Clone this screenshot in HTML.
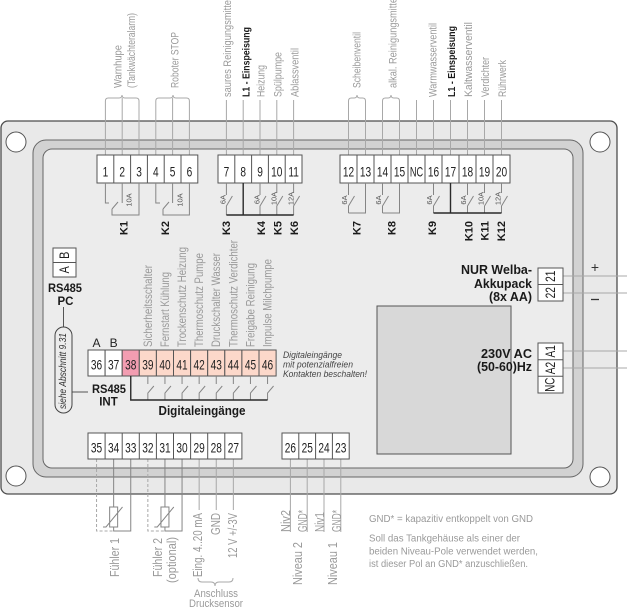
<!DOCTYPE html>
<html><head><meta charset="utf-8">
<style>
html,body{margin:0;padding:0;background:#fff;}
svg{display:block;font-family:"Liberation Sans",Arial,sans-serif;}
.lbl{fill:#9a9a9a;font-size:11px}
.ml{fill:#9a9a9a;font-size:12px}
.bl{fill:#9a9a9a;font-size:12.5px}
.num{font-size:13.5px;fill:#222}
.k{font-size:11px;font-weight:bold;fill:#1a1a1a}
.amp{font-size:7.5px;fill:#555}
.b{font-weight:bold;fill:#1a1a1a}
.w{stroke:#a8a8a8;stroke-width:1;fill:none}
.r{stroke:#858585;stroke-width:1;fill:none}
.d{stroke:#2a2a2a;stroke-width:1.4;fill:none}
.t{fill:#fff;stroke:#555;stroke-width:1}
.dv{stroke:#555;stroke-width:1;fill:none}
</style></head><body>
<svg width="627" height="607" viewBox="0 0 627 607" xmlns="http://www.w3.org/2000/svg">
<!-- housing -->
<rect x="1" y="121" width="616" height="373" rx="7" fill="#e9e9e9" stroke="#4d4d4d" stroke-width="1.3"/>
<circle cx="16" cy="142" r="10" fill="#fff" stroke="#555"/>
<circle cx="600" cy="142" r="10" fill="#fff" stroke="#555"/>
<circle cx="16" cy="476" r="10" fill="#fff" stroke="#555"/>
<circle cx="600" cy="477" r="10" fill="#fff" stroke="#555"/>
<rect x="33" y="140" width="550" height="337" rx="13" fill="#d2d2d2" stroke="#666"/>
<rect x="43" y="149" width="530" height="319" rx="9" fill="#ececec" stroke="#666"/>

<!-- display -->
<rect x="377" y="306" width="134" height="148" fill="#d8d8d8" stroke="#555"/>

<!-- top wires -->
<path class="w" d="M105.4,155V101M122.2,155V98M139,155V101M155.8,155V101M172.6,155V98M189.4,155V101
M226.4,155V100M243.2,155V100M260,155V100M276.8,155V100M293.6,155V100
M348.5,155V101M365.5,155V101M382.5,155V101M399.5,155V101M416.5,155V100M433.5,155V100M450.5,155V100M467.5,155V100M484.5,155V100M501.5,155V100"/>
<!-- braces -->
<path class="w" d="M105.4,101q0,-3 3,-3H119q3,0 3,-3q0,3 3,3H136q3,0 3,3
M155.8,101q0,-3 3,-3H170q3,0 3,-3q0,3 3,3H186.4q3,0 3,3
M348.5,101q0,-3 3,-3H354q3,0 3,-3q0,3 3,3H362.5q3,0 3,3
M382.5,101q0,-3 3,-3H388q3,0 3,-3q0,3 3,3H396.5q3,0 3,3"/>

<!-- top labels -->
<g dominant-baseline="central" lengthAdjust="spacingAndGlyphs">
<text class="lbl" transform="translate(118.5,88) rotate(-90)" dominant-baseline="central" textLength="43" lengthAdjust="spacingAndGlyphs">Warnhupe</text>
<text class="lbl" transform="translate(132,88) rotate(-90)" dominant-baseline="central" textLength="75" lengthAdjust="spacingAndGlyphs">(Tankwächteralarm)</text>
<text class="lbl" transform="translate(175.5,88) rotate(-90)" dominant-baseline="central" textLength="56" lengthAdjust="spacingAndGlyphs">Roboter STOP</text>
<text class="lbl" transform="translate(228,97) rotate(-90)" dominant-baseline="central" textLength="99" lengthAdjust="spacingAndGlyphs">saures Reinigungsmittel</text>
<text class="b" font-size="10.5" transform="translate(246.5,97) rotate(-90)" dominant-baseline="central" textLength="70" lengthAdjust="spacingAndGlyphs">L1 - Einspeisung</text>
<text class="lbl" transform="translate(261.5,97) rotate(-90)" dominant-baseline="central" textLength="32" lengthAdjust="spacingAndGlyphs">Heizung</text>
<text class="lbl" transform="translate(278.5,97) rotate(-90)" dominant-baseline="central" textLength="45" lengthAdjust="spacingAndGlyphs">Spülpumpe</text>
<text class="lbl" transform="translate(295.5,97) rotate(-90)" dominant-baseline="central" textLength="49" lengthAdjust="spacingAndGlyphs">Ablassventil</text>
<text class="lbl" transform="translate(357.5,88) rotate(-90)" dominant-baseline="central" textLength="56" lengthAdjust="spacingAndGlyphs">Scheibenventil</text>
<text class="lbl" transform="translate(393.5,88) rotate(-90)" dominant-baseline="central" textLength="92" lengthAdjust="spacingAndGlyphs">alkal. Reinigungsmittel</text>
<text class="lbl" transform="translate(433.5,97) rotate(-90)" dominant-baseline="central" textLength="74" lengthAdjust="spacingAndGlyphs">Warmwasserventil</text>
<text class="b" font-size="10.5" transform="translate(452,97) rotate(-90)" dominant-baseline="central" textLength="71" lengthAdjust="spacingAndGlyphs">L1 - Einspeisung</text>
<text class="lbl" transform="translate(469,97) rotate(-90)" dominant-baseline="central" textLength="75" lengthAdjust="spacingAndGlyphs">Kaltwasserventil</text>
<text class="lbl" transform="translate(486,97) rotate(-90)" dominant-baseline="central" textLength="40" lengthAdjust="spacingAndGlyphs">Verdichter</text>
<text class="lbl" transform="translate(503,97) rotate(-90)" dominant-baseline="central" textLength="37" lengthAdjust="spacingAndGlyphs">Rührwerk</text>
</g>

<!-- top terminals -->
<rect class="t" x="97" y="155" width="100.8" height="28"/>
<path class="dv" d="M113.8,155V183M130.6,155V183M147.4,155V183M164.2,155V183M181,155V183"/>
<rect class="t" x="218" y="155" width="84" height="28"/>
<path class="dv" d="M234.8,155V183M251.6,155V183M268.4,155V183M285.2,155V183"/>
<rect class="t" x="340" y="155" width="170" height="28"/>
<path class="dv" d="M357,155V183M374,155V183M391,155V183M408,155V183M425,155V183M442,155V183M459,155V183M476,155V183M493,155V183"/>
<g class="num" text-anchor="middle">
<text transform="translate(105.4,176.5) scale(0.75,1)">1</text>
<text transform="translate(122.2,176.5) scale(0.75,1)">2</text>
<text transform="translate(139,176.5) scale(0.75,1)">3</text>
<text transform="translate(155.8,176.5) scale(0.75,1)">4</text>
<text transform="translate(172.6,176.5) scale(0.75,1)">5</text>
<text transform="translate(189.4,176.5) scale(0.75,1)">6</text>
<text transform="translate(226.4,176.5) scale(0.75,1)">7</text>
<text transform="translate(243.2,176.5) scale(0.75,1)">8</text>
<text transform="translate(260,176.5) scale(0.75,1)">9</text>
<text transform="translate(276.8,176.5) scale(0.75,1)">10</text>
<text transform="translate(293.6,176.5) scale(0.75,1)">11</text>
<text transform="translate(348.5,176.5) scale(0.75,1)">12</text>
<text transform="translate(365.5,176.5) scale(0.75,1)">13</text>
<text transform="translate(382.5,176.5) scale(0.75,1)">14</text>
<text transform="translate(399.5,176.5) scale(0.75,1)">15</text>
<text transform="translate(416.5,176.5) scale(0.68,1)">NC</text>
<text transform="translate(433.5,176.5) scale(0.75,1)">16</text>
<text transform="translate(450.5,176.5) scale(0.75,1)">17</text>
<text transform="translate(467.5,176.5) scale(0.75,1)">18</text>
<text transform="translate(484.5,176.5) scale(0.75,1)">19</text>
<text transform="translate(501.5,176.5) scale(0.75,1)">20</text>
</g>

<!-- relays -->
<path class="r" d="M105.4,183V203H109M122.2,183V203M112,209L118,202M112,209V215H139V183
M155.8,183V203H160M172.6,183V203M163,209L169,202M163,209V215H189.4V183
M226.4,183V195M226.4,215V206L232.4,196
M260,183V195M260,215V206L266,196
M276.8,183V193M276.8,215V206L282.8,196
M293.6,183V193M293.6,215V206L299.6,196
M348.5,183V195M348.5,213V206L354.5,196M348.5,213H365.5V183
M382.5,183V195M382.5,213V206L388.5,196M382.5,213H399.5V183
M433.5,183V195M433.5,213V206L439.5,196
M467.5,183V195M467.5,213V206L473.5,196
M484.5,183V193M484.5,213V206L490.5,196
M501.5,183V193M501.5,213V206L507.5,196"/>
<path class="d" d="M226.4,215H293.6M243.2,183V215M433.5,213H501.5M450.5,183V213"/>
<g class="amp" text-anchor="middle">
<text transform="translate(129,200) rotate(-90)" dominant-baseline="central">10A</text>
<text transform="translate(180,200) rotate(-90)" dominant-baseline="central">10A</text>
<text transform="translate(223,199.5) rotate(-90)" dominant-baseline="central">6A</text>
<text transform="translate(257,199.5) rotate(-90)" dominant-baseline="central">6A</text>
<text transform="translate(274,198.5) rotate(-90)" dominant-baseline="central">10A</text>
<text transform="translate(290.8,198.5) rotate(-90)" dominant-baseline="central">12A</text>
<text transform="translate(344.5,200) rotate(-90)" dominant-baseline="central">6A</text>
<text transform="translate(378.5,200) rotate(-90)" dominant-baseline="central">6A</text>
<text transform="translate(429.5,200) rotate(-90)" dominant-baseline="central">6A</text>
<text transform="translate(463.5,200) rotate(-90)" dominant-baseline="central">6A</text>
<text transform="translate(481,198.5) rotate(-90)" dominant-baseline="central">10A</text>
<text transform="translate(498,198.5) rotate(-90)" dominant-baseline="central">12A</text>
</g>
<g class="k" text-anchor="end">
<text transform="translate(124.5,221) rotate(-90)" dominant-baseline="central">K1</text>
<text transform="translate(166,221) rotate(-90)" dominant-baseline="central">K2</text>
<text transform="translate(227,221) rotate(-90)" dominant-baseline="central">K3</text>
<text transform="translate(262,221) rotate(-90)" dominant-baseline="central">K4</text>
<text transform="translate(278.5,221) rotate(-90)" dominant-baseline="central">K5</text>
<text transform="translate(295,221) rotate(-90)" dominant-baseline="central">K6</text>
<text transform="translate(357.5,221) rotate(-90)" dominant-baseline="central">K7</text>
<text transform="translate(392.5,221) rotate(-90)" dominant-baseline="central">K8</text>
<text transform="translate(433,221) rotate(-90)" dominant-baseline="central">K9</text>
<text transform="translate(469.5,221) rotate(-90)" dominant-baseline="central">K10</text>
<text transform="translate(485.5,221) rotate(-90)" dominant-baseline="central">K11</text>
<text transform="translate(502,221) rotate(-90)" dominant-baseline="central">K12</text>
</g>

<!-- RS485 PC -->
<rect class="t" x="53" y="248" width="23" height="29"/>
<path class="dv" d="M53,262.5H76"/>
<g class="num" text-anchor="middle">
<text transform="translate(64.5,255.3) rotate(-90) scale(0.8,1)" dominant-baseline="central">B</text>
<text transform="translate(64.5,269.8) rotate(-90) scale(0.8,1)" dominant-baseline="central">A</text>
</g>
<text class="b" font-size="11.5" x="65" y="292" text-anchor="middle" textLength="34" lengthAdjust="spacingAndGlyphs">RS485</text>
<text class="b" font-size="11.5" x="65.5" y="305" text-anchor="middle">PC</text>
<path class="dv" stroke="#444" d="M63.5,307V327M72,392H88"/>
<rect x="55" y="327" width="17" height="86" rx="8.5" fill="#ececec" stroke="#444"/>
<text transform="translate(63.5,371) rotate(-90)" dominant-baseline="central" text-anchor="middle" font-size="10" font-style="italic" fill="#333" textLength="76" lengthAdjust="spacingAndGlyphs">siehe Abschnitt 9.31</text>

<!-- digital labels -->
<text class="ml" transform="translate(148,347) rotate(-90)" dominant-baseline="central" textLength="82" lengthAdjust="spacingAndGlyphs">Sicherheitsschalter</text>
<text class="ml" transform="translate(165,347) rotate(-90)" dominant-baseline="central" textLength="75" lengthAdjust="spacingAndGlyphs">Fernstart Kühlung</text>
<text class="ml" transform="translate(182,347) rotate(-90)" dominant-baseline="central" textLength="100" lengthAdjust="spacingAndGlyphs">Trockenschutz Heizung</text>
<text class="ml" transform="translate(199,347) rotate(-90)" dominant-baseline="central" textLength="94" lengthAdjust="spacingAndGlyphs">Thermoschutz Pumpe</text>
<text class="ml" transform="translate(216,347) rotate(-90)" dominant-baseline="central" textLength="94" lengthAdjust="spacingAndGlyphs">Druckschalter Wasser</text>
<text class="ml" transform="translate(233.5,347) rotate(-90)" dominant-baseline="central" textLength="107" lengthAdjust="spacingAndGlyphs">Thermoschutz Verdichter</text>
<text class="ml" transform="translate(250.5,347) rotate(-90)" dominant-baseline="central" textLength="84" lengthAdjust="spacingAndGlyphs">Freigabe Reinigung</text>
<text class="ml" transform="translate(267.5,347) rotate(-90)" dominant-baseline="central" textLength="88" lengthAdjust="spacingAndGlyphs">Impulse Milchpumpe</text>

<text x="96.5" y="347" text-anchor="middle" font-size="12" fill="#222">A</text>
<text x="113.6" y="347" text-anchor="middle" font-size="12" fill="#222">B</text>

<!-- terminals 36-46 -->
<g stroke="#555" stroke-width="1">
<rect x="88" y="350" width="17.1" height="26" fill="#fff"/>
<rect x="105.1" y="350" width="17.1" height="26" fill="#fff"/>
<rect x="122.2" y="350" width="17.1" height="26" fill="#f29db1"/>
<rect x="139.3" y="350" width="17.1" height="26" fill="#fcd8ca"/>
<rect x="156.4" y="350" width="17.1" height="26" fill="#fcd8ca"/>
<rect x="173.5" y="350" width="17.1" height="26" fill="#fcd8ca"/>
<rect x="190.6" y="350" width="17.1" height="26" fill="#fcd8ca"/>
<rect x="207.7" y="350" width="17.1" height="26" fill="#fcd8ca"/>
<rect x="224.8" y="350" width="17.1" height="26" fill="#fcd8ca"/>
<rect x="241.9" y="350" width="17.1" height="26" fill="#fcd8ca"/>
<rect x="259" y="350" width="17.1" height="26" fill="#fcd8ca"/>
</g>
<g class="num" text-anchor="middle">
<text transform="translate(96.55,369.3) scale(0.75,1)">36</text>
<text transform="translate(113.65,369.3) scale(0.75,1)">37</text>
<text transform="translate(130.75,369.3) scale(0.75,1)">38</text>
<text transform="translate(147.85,369.3) scale(0.75,1)">39</text>
<text transform="translate(164.95,369.3) scale(0.75,1)">40</text>
<text transform="translate(182.05,369.3) scale(0.75,1)">41</text>
<text transform="translate(199.15,369.3) scale(0.75,1)">42</text>
<text transform="translate(216.25,369.3) scale(0.75,1)">43</text>
<text transform="translate(233.35,369.3) scale(0.75,1)">44</text>
<text transform="translate(250.45,369.3) scale(0.75,1)">45</text>
<text transform="translate(267.55,369.3) scale(0.75,1)">46</text>
</g>
<path class="r" d="M147.85,376V384M147.85,400V393L153.85,386
M164.95,376V384M164.95,400V393L170.95,386
M182.05,376V384M182.05,400V393L188.05,386
M199.15,376V384M199.15,400V393L205.15,386
M216.25,376V384M216.25,400V393L222.25,386
M233.35,376V384M233.35,400V393L239.35,386
M250.45,376V384M250.45,400V393L256.45,386
M267.55,376V384M267.55,400V393L273.55,386"/>
<path class="d" d="M130.75,376V400H267.55"/>

<text class="b" font-size="11.5" x="109" y="393" text-anchor="middle" textLength="34" lengthAdjust="spacingAndGlyphs">RS485</text>
<text class="b" font-size="11.5" x="108.5" y="405.5" text-anchor="middle">INT</text>
<text class="b" font-size="13" x="202" y="415" text-anchor="middle" textLength="87" lengthAdjust="spacingAndGlyphs">Digitaleingänge</text>

<g font-size="9" font-style="italic" fill="#444">
<text x="283" y="358" textLength="59" lengthAdjust="spacingAndGlyphs">Digitaleingänge</text>
<text x="283" y="367.5" textLength="70" lengthAdjust="spacingAndGlyphs">mit potenzialfreien</text>
<text x="283" y="377" textLength="84" lengthAdjust="spacingAndGlyphs">Kontakten beschalten!</text>
</g>

<!-- right side -->
<path class="w" d="M563,276H627M563,293H627M563,351H627M563,368H627"/>
<g class="b" font-size="12.5" text-anchor="end">
<text x="532" y="274" textLength="71" lengthAdjust="spacingAndGlyphs">NUR Welba-</text>
<text x="532" y="288" textLength="58" lengthAdjust="spacingAndGlyphs">Akkupack</text>
<text x="532" y="301" textLength="43" lengthAdjust="spacingAndGlyphs">(8x AA)</text>
<text x="532" y="358" textLength="51" lengthAdjust="spacingAndGlyphs">230V AC</text>
<text x="532" y="371" textLength="55" lengthAdjust="spacingAndGlyphs">(50-60)Hz</text>
</g>
<rect class="t" x="538" y="268" width="25" height="33"/>
<path class="dv" d="M538,284.5H563"/>
<rect class="t" x="538" y="343" width="25" height="50"/>
<path class="dv" d="M538,359.7H563M538,376.3H563"/>
<g class="num" text-anchor="middle">
<text transform="translate(550.5,276.3) rotate(-90) scale(0.75,1)" dominant-baseline="central">21</text>
<text transform="translate(550.5,292.8) rotate(-90) scale(0.75,1)" dominant-baseline="central">22</text>
<text transform="translate(550.5,351.3) rotate(-90) scale(0.75,1)" dominant-baseline="central">A1</text>
<text transform="translate(550.5,368) rotate(-90) scale(0.75,1)" dominant-baseline="central">A2</text>
<text transform="translate(550.5,384.7) rotate(-90) scale(0.72,1)" dominant-baseline="central">NC</text>
</g>
<text x="595" y="272" text-anchor="middle" font-size="14" fill="#333">+</text>
<path d="M591,299.5H599" stroke="#333" stroke-width="1.3"/>

<!-- bottom wires -->
<path class="w" stroke-dasharray="3,2" d="M96.55,459V531H113M147.85,459V531H165"/>
<path class="r" stroke="#999" d="M113.65,459V507M113.65,527V531H130.75V459M109.65,507h8v20h-8zM103,527H106L122.5,507
M164.95,459V507M164.95,527V531H182.05V459M160.95,507h8v20h-8zM154.3,527H157.3L173.8,507"/>
<path class="w" d="M199.15,459V510M216.25,459V510M233.35,459V510M290.4,459V532M307.2,459V532M324,459V532M340.8,459V532"/>
<path class="w" d="M198,578q0,4 4,4H211q4,0 4,4q0,-4 4,-4H229q4,0 4,-4"/>

<!-- bottom terminals -->
<rect class="t" x="88" y="433" width="153.9" height="26"/>
<path class="dv" d="M105.1,433V459M122.2,433V459M139.3,433V459M156.4,433V459M173.5,433V459M190.6,433V459M207.7,433V459M224.8,433V459"/>
<rect class="t" x="282" y="433" width="67.2" height="26"/>
<path class="dv" d="M298.8,433V459M315.6,433V459M332.4,433V459"/>
<g class="num" text-anchor="middle">
<text transform="translate(96.55,452.5) scale(0.75,1)">35</text>
<text transform="translate(113.65,452.5) scale(0.75,1)">34</text>
<text transform="translate(130.75,452.5) scale(0.75,1)">33</text>
<text transform="translate(147.85,452.5) scale(0.75,1)">32</text>
<text transform="translate(164.95,452.5) scale(0.75,1)">31</text>
<text transform="translate(182.05,452.5) scale(0.75,1)">30</text>
<text transform="translate(199.15,452.5) scale(0.75,1)">29</text>
<text transform="translate(216.25,452.5) scale(0.75,1)">28</text>
<text transform="translate(233.35,452.5) scale(0.75,1)">27</text>
<text transform="translate(290.4,452.5) scale(0.75,1)">26</text>
<text transform="translate(307.2,452.5) scale(0.75,1)">25</text>
<text transform="translate(324,452.5) scale(0.75,1)">24</text>
<text transform="translate(340.8,452.5) scale(0.75,1)">23</text>
</g>

<!-- bottom labels -->
<g class="bl" text-anchor="end">
<text transform="translate(115,538) rotate(-90)" dominant-baseline="central" textLength="39" lengthAdjust="spacingAndGlyphs">Fühler 1</text>
<text transform="translate(158,538) rotate(-90)" dominant-baseline="central" textLength="39" lengthAdjust="spacingAndGlyphs">Fühler 2</text>
<text transform="translate(172,537) rotate(-90)" dominant-baseline="central" textLength="46" lengthAdjust="spacingAndGlyphs">(optional)</text>
<text transform="translate(198,513) rotate(-90)" dominant-baseline="central" textLength="64" lengthAdjust="spacingAndGlyphs">Eing. 4..20 mA</text>
<text transform="translate(216,513) rotate(-90)" dominant-baseline="central" textLength="22" lengthAdjust="spacingAndGlyphs">GND</text>
<text transform="translate(233,513) rotate(-90)" dominant-baseline="central" textLength="45" lengthAdjust="spacingAndGlyphs">12 V +/-3V</text>
<text transform="translate(286,510) rotate(-90)" dominant-baseline="central" textLength="22" lengthAdjust="spacingAndGlyphs">Niv2</text>
<text transform="translate(303,510) rotate(-90)" dominant-baseline="central" textLength="22" lengthAdjust="spacingAndGlyphs">GND*</text>
<text transform="translate(320,512) rotate(-90)" dominant-baseline="central" textLength="20" lengthAdjust="spacingAndGlyphs">Niv1</text>
<text transform="translate(337,510) rotate(-90)" dominant-baseline="central" textLength="22" lengthAdjust="spacingAndGlyphs">GND*</text>
<text transform="translate(298,542) rotate(-90)" dominant-baseline="central" textLength="43" lengthAdjust="spacingAndGlyphs">Niveau 2</text>
<text transform="translate(333,542) rotate(-90)" dominant-baseline="central" textLength="43" lengthAdjust="spacingAndGlyphs">Niveau 1</text>
</g>
<g fill="#9a9a9a" font-size="11" text-anchor="middle">
<text x="216" y="597" textLength="44" lengthAdjust="spacingAndGlyphs">Anschluss</text>
<text x="216" y="607" textLength="54" lengthAdjust="spacingAndGlyphs">Drucksensor</text>
</g>
<g fill="#9a9a9a" font-size="9.7">
<text x="369" y="522" textLength="164" lengthAdjust="spacingAndGlyphs">GND* = kapazitiv entkoppelt von GND</text>
<text x="369" y="541.5" textLength="151" lengthAdjust="spacingAndGlyphs">Soll das Tankgehäuse als einer der</text>
<text x="369" y="554.5" textLength="169" lengthAdjust="spacingAndGlyphs">beiden Niveau-Pole verwendet werden,</text>
<text x="369" y="567" textLength="159" lengthAdjust="spacingAndGlyphs">ist dieser Pol an GND* anzuschließen.</text>
</g>
</svg>
</body></html>
